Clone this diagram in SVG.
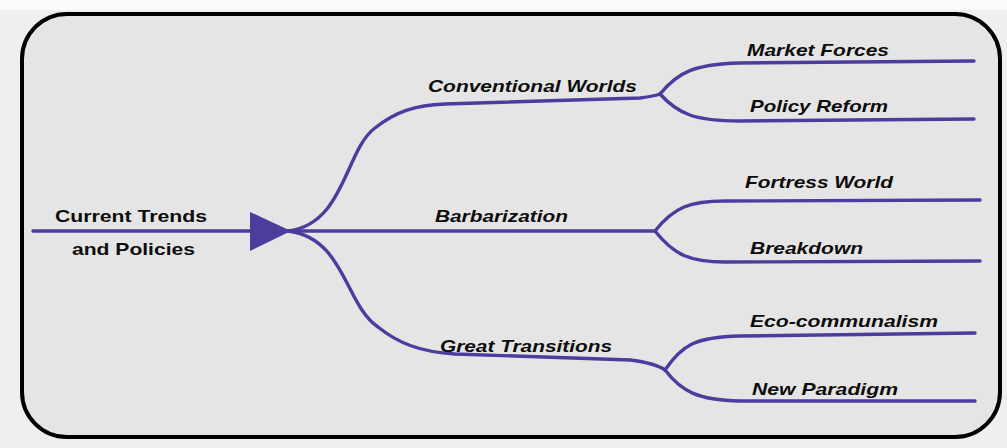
<svg xmlns="http://www.w3.org/2000/svg" width="1007" height="448" viewBox="0 0 1007 448">
  <style>
    .frame { fill: #e5e5e5; stroke: #000; stroke-width: 4; }
    .link { fill: none; stroke: #4a3d9e; stroke-width: 3.4; stroke-linecap: round; }
    .lbl { font-family: "Liberation Sans", Arial, sans-serif; font-size: 17px; font-weight: bold; font-style: italic; fill: #0d0d0d; }
    .root { font-style: normal; }
  </style>
  <rect x="0" y="0" width="1007" height="448" fill="#efefef"/>
  <rect x="0" y="0" width="1007" height="10" fill="#fbfbfb"/>
  <rect class="frame" x="22" y="14" width="978" height="423" rx="45" ry="45"/>

  <g id="connectors">
    <path class="link" d="M33,231 H655"/>
    <polygon points="250,212 250,251 291,231" fill="#4a3d9e"/>
    <!-- upper scenario branch -->
    <path class="link" d="M288,231 C345,224 345,150 375,128 C395,112 415,105 445,104 L640,98 Q655,96 660,94"/>
    <path class="link" d="M660,94 C678,72 695,64 740,63 L974,61"/>
    <path class="link" d="M660,94 C678,114 695,121 740,121 L974,119"/>
    <!-- middle scenario branch -->
    <path class="link" d="M655,231 C674,207 690,201 725,201 L980,200"/>
    <path class="link" d="M655,231 C674,255 690,262 725,262 L980,261"/>
    <!-- lower scenario branch -->
    <path class="link" d="M288,231 C345,238 345,305 378,327 C398,343 420,352 455,354 L630,360 Q655,363 665,370"/>
    <path class="link" d="M665,370 C682,345 695,337 740,336 L975,333"/>
    <path class="link" d="M665,370 C682,392 698,400 740,401 L975,401"/>
  </g>

  <g id="current">
    <text class="lbl root" x="55" y="222" textLength="152" lengthAdjust="spacingAndGlyphs">Current Trends</text>
    <text class="lbl root" x="72" y="255" textLength="123" lengthAdjust="spacingAndGlyphs">and Policies</text>
  </g>
  <g id="conventional">
    <text class="lbl" x="428" y="92" textLength="209" lengthAdjust="spacingAndGlyphs">Conventional Worlds</text>
  </g>
  <g id="barbarization">
    <text class="lbl" x="435" y="222" textLength="133" lengthAdjust="spacingAndGlyphs">Barbarization</text>
  </g>
  <g id="great-transitions">
    <text class="lbl" x="440" y="352" textLength="172" lengthAdjust="spacingAndGlyphs">Great Transitions</text>
  </g>
  <g id="market-forces">
    <text class="lbl" x="747" y="56" textLength="142" lengthAdjust="spacingAndGlyphs">Market Forces</text>
  </g>
  <g id="policy-reform">
    <text class="lbl" x="750" y="112" textLength="138" lengthAdjust="spacingAndGlyphs">Policy Reform</text>
  </g>
  <g id="fortress-world">
    <text class="lbl" x="745" y="188" textLength="148" lengthAdjust="spacingAndGlyphs">Fortress World</text>
  </g>
  <g id="breakdown">
    <text class="lbl" x="750" y="254" textLength="113" lengthAdjust="spacingAndGlyphs">Breakdown</text>
  </g>
  <g id="eco-communalism">
    <text class="lbl" x="750" y="327" textLength="188" lengthAdjust="spacingAndGlyphs">Eco-communalism</text>
  </g>
  <g id="new-paradigm">
    <text class="lbl" x="752" y="395" textLength="146" lengthAdjust="spacingAndGlyphs">New Paradigm</text>
  </g>
</svg>
